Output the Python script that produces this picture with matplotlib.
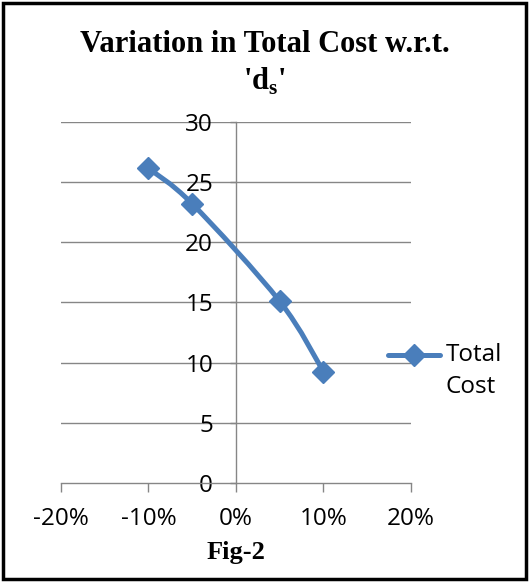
import numpy as np
import matplotlib.pyplot as plt
from matplotlib.path import Path
from matplotlib.patches import PathPatch, Rectangle
from matplotlib.lines import Line2D

# data
change = [-0.10, -0.05, 0.05, 0.10]
total_cost = [26.15, 23.2, 15.1, 9.25]
x_ticks = [-0.2, -0.1, 0.0, 0.1, 0.2]
x_labels = ["-20%", "-10%", "0%", "10%", "20%"]
y_ticks = [0, 5, 10, 15, 20, 25, 30]

blue = "#4A7EBB"
grey = "#868686"
tick_font = "Open Sans"

plt.rcParams["mathtext.fontset"] = "custom"
plt.rcParams["mathtext.rm"] = "Liberation Serif"
plt.rcParams["mathtext.bf"] = "Liberation Serif:bold"

fig = plt.figure(figsize=(5.29, 5.82), dpi=100)
ax = fig.add_axes([0.1153, 0.1701, 0.6616, 0.6203])
ax.set_xlim(-0.2, 0.2)
ax.set_ylim(0, 30)

for y in y_ticks[1:]:
    ax.axhline(y, color=grey, lw=1.0, zorder=1)

for s in ["top", "right"]:
    ax.spines[s].set_visible(False)
ax.spines["left"].set_position(("data", 0))
ax.spines["left"].set_color(grey)
ax.spines["bottom"].set_color(grey)
ax.spines["left"].set_linewidth(1.0)
ax.spines["bottom"].set_linewidth(1.0)

ax.set_xticks(x_ticks)
ax.set_xticklabels(x_labels)
ax.set_yticks(y_ticks)
ax.tick_params(axis="x", direction="out", length=6.5, width=1, color=grey, pad=11)
ax.tick_params(axis="y", direction="out", length=4.5, width=1, color=grey, pad=12)
for lab in ax.get_xticklabels() + ax.get_yticklabels():
    lab.set_fontfamily(tick_font)
    lab.set_fontsize(17.5)

# smoothed line like excel (catmull-rom -> cubic bezier)
pts = np.column_stack([change, total_cost])
verts = [pts[0]]
codes = [Path.MOVETO]
n = len(pts)
for i in range(n - 1):
    p0 = pts[i - 1] if i > 0 else pts[i]
    p1 = pts[i]
    p2 = pts[i + 1]
    p3 = pts[i + 2] if i + 2 < n else pts[i + 1]
    c1 = p1 + (p2 - p0) / 6
    c2 = p2 - (p3 - p1) / 6
    verts += [c1, c2, p2]
    codes += [Path.CURVE4] * 3
ax.add_patch(PathPatch(Path(verts, codes), fill=False, edgecolor=blue, lw=3.6,
                       capstyle="round", zorder=3))
ax.plot(change, total_cost, ls="none", marker="D", ms=11, color=blue, zorder=4)

# legend
fig.add_artist(Line2D([388 / 529, 440 / 529], [1 - 355 / 582, 1 - 355 / 582],
                      color=blue, lw=3.6, marker=None, solid_capstyle="round"))
fig.add_artist(Line2D([414 / 529], [1 - 355 / 582], color=blue, ls="none",
                      marker="D", ms=11))
fig.text(446 / 529, 1 - 355 / 582, "Total", fontfamily=tick_font, fontsize=17.5,
         va="center", ha="left")
fig.text(446 / 529, 1 - 387 / 582, "Cost", fontfamily=tick_font, fontsize=17.5,
         va="center", ha="left")

# title and caption
fig.text(265 / 529, 1 - 44 / 582, "Variation in Total Cost w.r.t.",
         fontfamily="Liberation Serif", fontweight="bold", fontsize=22,
         ha="center", va="center")
fig.text(265 / 529, 1 - 90 / 582, r"'$\mathbf{d}_\mathbf{s}$'",
         fontfamily="Liberation Serif", fontweight="bold", fontsize=22,
         ha="center", va="baseline")
fig.text(236 / 529, 1 - 553 / 582, "Fig-2", fontfamily="Liberation Serif",
         fontweight="bold", fontsize=19, ha="center", va="center")

# black frame round the figure
fig.add_artist(Rectangle((0.006, 0.005), 0.988, 0.99, transform=fig.transFigure,
                         fill=False, edgecolor="black", lw=2.5))

fig.savefig("out.png", dpi=100)
